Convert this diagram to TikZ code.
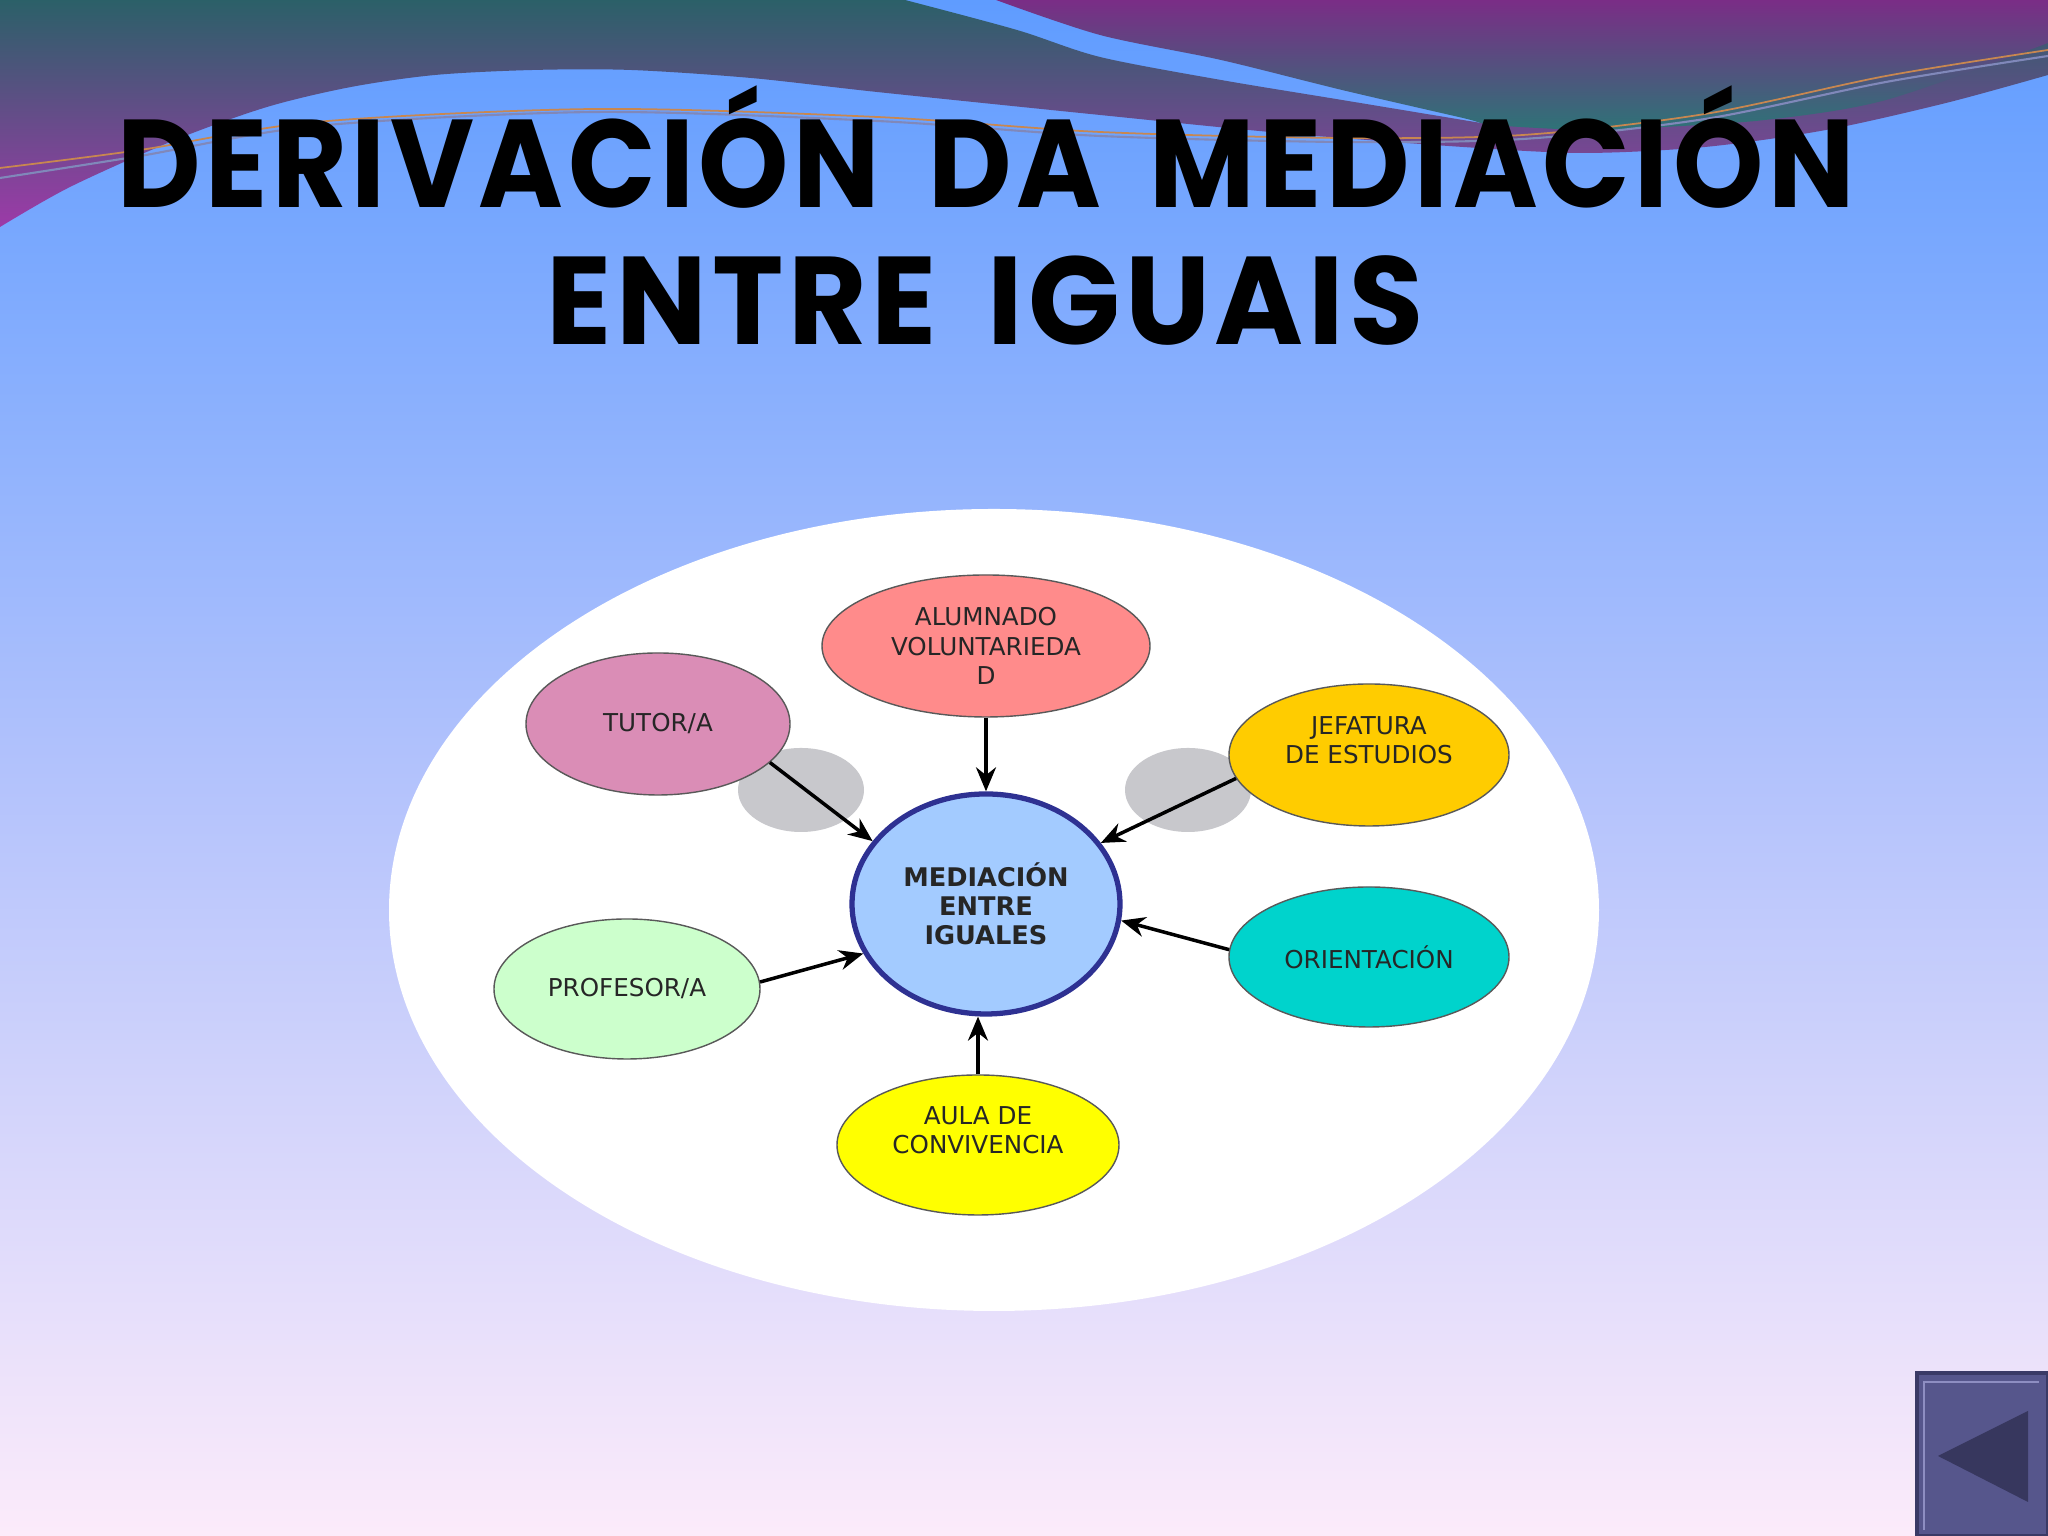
\documentclass[tikz,border=0pt]{standalone}
\usepackage{fontspec}
\usepackage{graphicx}
\usetikzlibrary{shapes.geometric,arrows.meta}

\newfontfamily\titlefont{Poppins}[LetterSpace=4]
\newfontfamily\bubblefont{DejaVu Sans}

\definecolor{skytop}{HTML}{5F9CFF}
\definecolor{skymid}{HTML}{B2C2FC}
\definecolor{skybot}{HTML}{FCEBFA}
\definecolor{bandteal}{HTML}{2B6068}
\definecolor{bandpurple}{HTML}{9C3AA8}
\definecolor{cappurple}{HTML}{7A2D86}
\definecolor{capteal}{HTML}{2E7377}
\definecolor{threadgray}{HTML}{8088BA}
\definecolor{threadorange}{HTML}{C88750}
\definecolor{alumpink}{HTML}{FF8B8B}
\definecolor{tutormauve}{HTML}{DA8DB6}
\definecolor{jefgold}{HTML}{FFCC00}
\definecolor{oriturq}{HTML}{00D3CC}
\definecolor{profmint}{HTML}{CCFFCC}
\definecolor{aulayellow}{HTML}{FFFF00}
\definecolor{medblue}{HTML}{A3CBFF}
\definecolor{medborder}{HTML}{2E3192}
\definecolor{shadowgray}{HTML}{C8C8CC}
\definecolor{btnface}{HTML}{56568C}
\definecolor{btnedge}{HTML}{3A3A66}
\definecolor{btnlight}{HTML}{8E8EC2}
\definecolor{btndark}{HTML}{37375E}

% cap height of the title letters fixed to 0.88cm
\newcommand{\titleline}[2]{\resizebox{#1}{0.88cm}{\raisebox{0pt}[\fontcharht\font`E][0pt]{#2}}}
\newcommand{\wordgap}{\hspace{0.42em}}

\begin{document}
\begin{tikzpicture}[
  bubble/.style={ellipse, draw=black!65, line width=0.4pt, inner sep=0pt, align=center,
    text=black!85, font=\bubblefont\fontsize{7}{8.5}\selectfont},
  headline/.style={inner sep=0pt, anchor=base, font=\titlefont\bfseries\fontsize{40}{40}\selectfont},
  >={Stealth[length=2.4mm,width=2mm]},
  link/.style={->, line width=1pt, black}]

\useasboundingbox (0,0) rectangle (20.48,15.36);
\shade[top color=skytop, bottom color=skybot, middle color=skymid] (0,0) rectangle (20.48,15.36);

% waves at the top
\shade[top color=bandteal, bottom color=bandpurple] (0,15.36) -- (9.05,15.36)
  -- plot[smooth] coordinates {(9.05,15.36) (10.17,15.06) (11.0,14.79) (12.21,14.56) (13.42,14.36) (14.93,14.11)}
  -- (20.48,15.0) -- (20.48,14.61)
  -- plot[smooth] coordinates {(20.48,14.61) (19.46,14.33) (18.26,14.06) (17.05,13.89) (15.84,13.83) (14.63,13.89) (12.81,14.03) (11.0,14.21) (8.77,14.44) (7.51,14.58) (6.31,14.66) (5.33,14.66) (4.35,14.61) (3.51,14.49) (2.67,14.29) (1.75,13.96) (0.70,13.49) (0,13.09)}
  -- cycle;
\shade[top color=cappurple, bottom color=capteal] (9.96,15.36)
  -- plot[smooth] coordinates {(9.96,15.36) (11.0,15.01) (12.21,14.76) (13.42,14.46) (14.63,14.18) (14.93,14.11) (15.84,14.06) (16.44,14.08) (17.65,14.16) (18.86,14.36) (20.48,14.93)}
  -- (20.48,15.36) -- cycle;
\draw[threadgray, line width=0.6pt] plot[smooth] coordinates {(0,13.58) (1.40,13.80) (3.16,14.10) (5.96,14.24) (8.77,14.15) (11.0,14.0) (13.42,13.94) (15.23,13.97) (17.05,14.17) (18.86,14.54) (20.48,14.80)};
\draw[threadorange, line width=0.5pt] plot[smooth] coordinates {(0,13.68) (1.40,13.86) (3.16,14.14) (5.96,14.27) (8.77,14.19) (11.0,14.04) (13.42,13.98) (15.23,14.01) (17.05,14.22) (18.86,14.60) (20.48,14.86)};

\node[headline] (title1) at (9.86,13.28) {\titleline{17.37cm}{DERIVACIÓN\wordgap DA\wordgap MEDIACIÓN}};
\node[headline] (title2) at (9.85,11.91) {\titleline{8.77cm}{ENTRE\wordgap IGUAIS}};

\fill[white] (9.94,6.26) ellipse (6.05 and 4.01);
\fill[shadowgray] (8.01,7.46) ellipse (0.63 and 0.42);
\fill[shadowgray] (11.88,7.46) ellipse (0.63 and 0.42);

\node[bubble, fill=alumpink, minimum width=3.28cm, minimum height=1.42cm] (alum) at (9.86,8.90) {ALUMNADO\\VOLUNTARIEDA\\D};
\node[bubble, fill=tutormauve, minimum width=2.64cm, minimum height=1.42cm] (tutor) at (6.58,8.12) {TUTOR/A};
\node[bubble, fill=jefgold, minimum width=2.80cm, minimum height=1.42cm] (jef) at (13.69,7.81) {JEFATURA\\DE ESTUDIOS\\\mbox{}};
\node[bubble, fill=oriturq, minimum width=2.80cm, minimum height=1.40cm] (ori) at (13.69,5.79) {ORIENTACIÓN};
\node[bubble, fill=profmint, minimum width=2.66cm, minimum height=1.40cm] (prof) at (6.27,5.47) {PROFESOR/A};
\node[bubble, fill=aulayellow, minimum width=2.82cm, minimum height=1.40cm] (aula) at (9.78,3.91) {AULA DE\\CONVIVENCIA\\\mbox{}};
\node[bubble, fill=medblue, draw=medborder, line width=1.5pt, minimum width=2.68cm, minimum height=2.20cm,
  font=\bubblefont\bfseries\fontsize{7.3}{8.3}\selectfont] (med) at (9.86,6.32) {MEDIACIÓN\\ENTRE\\IGUALES};

\draw[link] (alum) -- (med);
\draw[link] (tutor.-19) -- (med.151);
\draw[link] (jef.190) -- (med.28);
\draw[link] (ori.177) -- (med.-7);
\draw[link] (prof.3) -- (med.202);
\draw[link] (aula.north) -- (aula.north |- med.south);

% back button
\fill[btnface, draw=btnedge, line width=1.2pt] (19.17,0) rectangle (20.48,1.63);
\draw[btnlight, line width=0.8pt] (19.24,0.06) -- (19.24,1.54) -- (20.39,1.54);
\fill[btndark] (19.38,0.80) -- (20.28,1.25) -- (20.28,0.34) -- cycle;

\end{tikzpicture}
\end{document}
